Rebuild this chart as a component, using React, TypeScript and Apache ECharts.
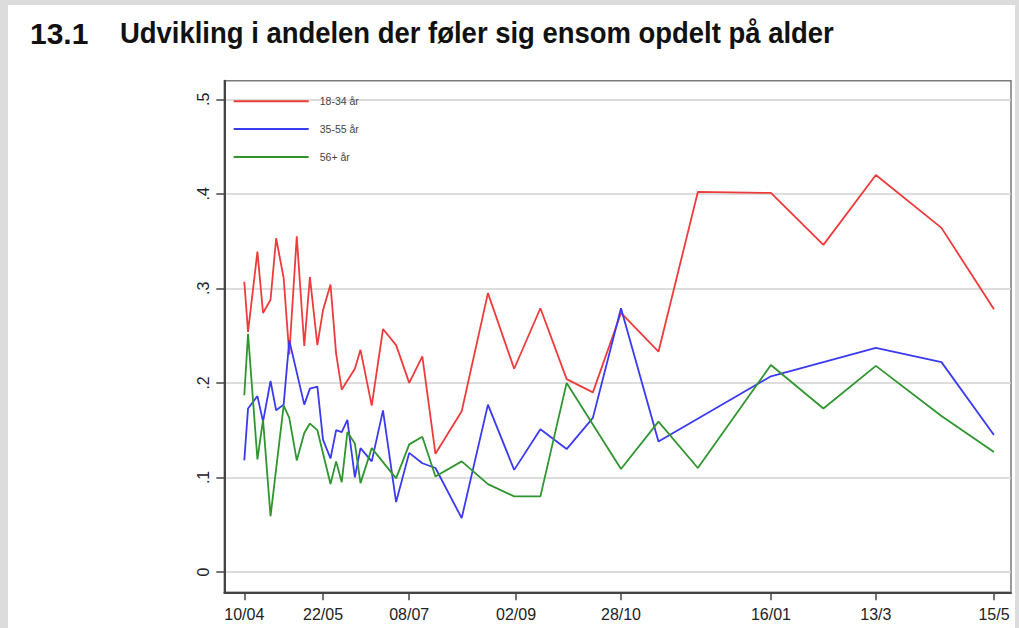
import React, { useEffect, useRef } from 'react';
import * as echarts from 'echarts';

const titleNumber = '13.1';
const titleText = 'Udvikling i andelen der føler sig ensom opdelt på alder';

const seriesNames = ['18-34 år', '35-55 år', '56+ år'];
const seriesColors = ['#ee3b3b', '#3a3af2', '#2f962f'];

const xTickDays = [0, 42, 88, 145, 201, 281, 337, 400];
const xTickLabels = ['10/04', '22/05', '08/07', '02/09', '28/10', '16/01', '13/3', '15/5'];
const yTickValues = [0, 0.1, 0.2, 0.3, 0.4, 0.5];
const yTickLabels = ['0', '.1', '.2', '.3', '.4', '.5'];

// days since 10/04
const redDays = [0, 2, 7, 10, 14, 17, 21, 24, 28, 32, 35, 39, 42, 46, 49, 52, 59, 62, 68, 74, 81, 88, 95, 102, 116, 130, 144, 158, 172, 186, 201, 221, 242, 281, 309, 337, 372, 400];
const redValues = [0.307, 0.254, 0.339, 0.274, 0.288, 0.353, 0.311, 0.230, 0.355, 0.239, 0.312, 0.240, 0.277, 0.304, 0.231, 0.193, 0.215, 0.235, 0.176, 0.257, 0.240, 0.200, 0.228, 0.125, 0.170, 0.295, 0.215, 0.279, 0.204, 0.190, 0.274, 0.233, 0.402, 0.401, 0.346, 0.420, 0.364, 0.278];

const blueDays = [0, 2, 7, 10, 14, 17, 21, 24, 32, 35, 39, 42, 46, 49, 52, 55, 59, 62, 68, 74, 81, 88, 95, 102, 116, 130, 144, 158, 172, 186, 201, 221, 281, 337, 372, 400];
const blueValues = [0.118, 0.173, 0.186, 0.159, 0.202, 0.171, 0.177, 0.245, 0.177, 0.194, 0.196, 0.140, 0.120, 0.150, 0.148, 0.161, 0.100, 0.131, 0.117, 0.171, 0.074, 0.126, 0.115, 0.110, 0.057, 0.177, 0.108, 0.151, 0.130, 0.163, 0.279, 0.138, 0.207, 0.237, 0.222, 0.145];

const greenDays = [0, 2, 7, 10, 14, 21, 24, 28, 32, 35, 39, 46, 49, 52, 55, 59, 62, 68, 81, 88, 95, 102, 116, 130, 144, 158, 172, 201, 221, 242, 281, 309, 337, 372, 400];
const greenValues = [0.187, 0.252, 0.119, 0.161, 0.059, 0.176, 0.163, 0.118, 0.147, 0.157, 0.150, 0.093, 0.117, 0.095, 0.148, 0.136, 0.094, 0.131, 0.099, 0.135, 0.143, 0.101, 0.117, 0.093, 0.080, 0.080, 0.200, 0.109, 0.159, 0.110, 0.219, 0.173, 0.218, 0.165, 0.127];

const zip = (xs: number[], ys: number[]) => xs.map((x, i) => [x, ys[i]]);

export default function App() {
  const ref = useRef<HTMLDivElement>(null);
  useEffect(() => {
    const chart = echarts.init(ref.current!, null, { renderer: 'svg' });
    const font = '"Liberation Sans", Arial, sans-serif';
    const seriesData = [zip(redDays, redValues), zip(blueDays, blueValues), zip(greenDays, greenValues)];
    chart.setOption({
      animation: false,
      graphic: [
        { type: 'rect', z: -100, silent: true, shape: { x: 8, y: 5, width: 1007, height: 623 }, style: { fill: '#ffffff' } },
        { type: 'text', x: 30, y: 33, style: { text: titleNumber, font: 'bold 30px ' + font, fill: '#111', verticalAlign: 'middle' } },
        { type: 'text', x: 120, y: 33, scaleX: 0.915, style: { text: titleText, font: 'bold 30px ' + font, fill: '#111', verticalAlign: 'middle' } },
      ],
      grid: { left: 224.3, right: 8, top: 80.7, bottom: 35.7, show: true, borderColor: '#7a7a7a', borderWidth: 1.5, backgroundColor: 'transparent' },
      legend: {
        orient: 'vertical', left: 227.7, top: 90.6, itemWidth: 75, itemHeight: 14, itemGap: 16.7,
        itemStyle: { color: 'transparent', borderColor: 'transparent', borderWidth: 0, opacity: 0 },
        textStyle: { fontSize: 10.5, color: '#444', fontFamily: font, padding: [0, 0, 0, 6] },
        data: seriesNames,
      },
      xAxis: {
        type: 'value', min: -10.67, max: 409.1,
        axisLine: { show: true, onZero: false, lineStyle: { color: '#444', width: 2 } },
        axisTick: { show: true, length: 8, customValues: xTickDays, lineStyle: { color: '#444', width: 1.5 } },
        axisLabel: {
          customValues: xTickDays, margin: 14, fontSize: 16, color: '#222', fontFamily: font,
          formatter: (v: number) => { const i = xTickDays.indexOf(v); return i >= 0 ? xTickLabels[i] : ''; },
        },
        splitLine: { show: false },
      },
      yAxis: {
        type: 'value', min: -0.0215, max: 0.5197,
        axisLine: { show: true, onZero: false, lineStyle: { color: '#444', width: 2 } },
        axisTick: { show: true, length: 8, customValues: yTickValues, lineStyle: { color: '#444', width: 1.5 } },
        axisLabel: {
          customValues: yTickValues, rotate: 90, margin: 13, fontSize: 16, color: '#222', fontFamily: font,
          formatter: (v: number) => { const i = yTickValues.indexOf(v); return i >= 0 ? yTickLabels[i] : ''; },
        },
        splitLine: { show: true, lineStyle: { color: '#d2d2d2', width: 1.5 } },
      },
      series: seriesNames.map((name, i) => ({
        name, type: 'line', symbol: 'none', data: seriesData[i],
        lineStyle: { width: 1.8, color: seriesColors[i] },
        itemStyle: { color: seriesColors[i] },
      })),
    });
    return () => chart.dispose();
  }, []);
  return <div ref={ref} style={{ position: 'fixed', left: 0, top: 0, width: 1019, height: 628, background: '#dcdcdd' }} />;
}
